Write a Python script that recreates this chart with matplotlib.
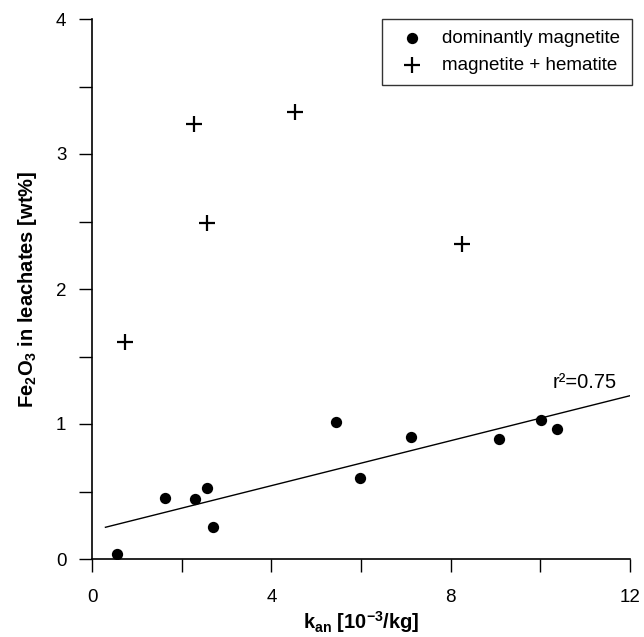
import matplotlib
matplotlib.use("Agg")
import matplotlib.pyplot as plt
import numpy as np

plt.rcParams['font.family'] = ['Liberation Sans', 'DejaVu Sans']
plt.rcParams['mathtext.fontset'] = 'custom'
plt.rcParams['mathtext.rm'] = 'Liberation Sans'
plt.rcParams['mathtext.bf'] = 'Liberation Sans:bold'
plt.rcParams['mathtext.it'] = 'Liberation Sans:italic'

# Data
magnetite_x = [0.56, 1.62, 2.29, 2.57, 2.71, 5.44, 5.98, 7.11, 9.07, 10.02, 10.37]
magnetite_y = [0.035, 0.454, 0.447, 0.526, 0.24, 1.017, 0.60, 0.904, 0.891, 1.027, 0.963]
hematite_x = [0.74, 2.28, 2.57, 4.52, 8.25]
hematite_y = [1.61, 3.22, 2.49, 3.31, 2.33]
fit_slope = 0.0833
fit_intercept = 0.21
fit_x_range = [0.3, 12.0]
r2_label = "r²=0.75"
x_ticks = [0, 4, 8, 12]
y_ticks = [0, 1, 2, 3, 4]

fig = plt.figure(figsize=(6.44, 6.37), dpi=100)
ax = fig.add_axes([92/644, 1 - 559/637, 538/644, 540/637])

ax.scatter(magnetite_x, magnetite_y, s=66, c='black', marker='o', linewidths=0,
           label='dominantly magnetite', zorder=3)
ax.scatter(hematite_x, hematite_y, s=140, c='black', marker='+', linewidths=1.6,
           label='magnetite + hematite', zorder=3)

fx = np.array(fit_x_range)
ax.plot(fx, fit_intercept + fit_slope * fx, color='black', lw=1.0, zorder=2)
ax.text(11.0, 1.31, r2_label, ha='center', va='center', fontsize=14.5)

ax.set_xlim(0, 12)
ax.set_ylim(0, 4)
ax.set_xticks(x_ticks)
ax.set_yticks(y_ticks)
ax.set_xticks(np.arange(0, 12.1, 2), minor=True)
ax.set_yticks(np.arange(0, 4.01, 0.5), minor=True)
ax.tick_params(which='both', direction='out', length=9.5, width=1.0, labelsize=13.5)
ax.tick_params(axis='x', which='major', pad=12)
ax.tick_params(axis='y', which='major', pad=9)

for s in ['top', 'right']:
    ax.spines[s].set_visible(False)
for s in ['left', 'bottom']:
    ax.spines[s].set_linewidth(1.2)

ax.set_xlabel(r'$\mathbf{k_{an}}$ [10$^{\mathbf{-3}}$/kg]', fontsize=14.5, fontweight='bold', labelpad=2)
ax.set_ylabel(r'$\mathbf{Fe_2O_3}$ in leachates [wt%]', fontsize=14.5, fontweight='bold', labelpad=12)

leg = ax.legend(loc='upper right', bbox_to_anchor=(1.003, 1.0), borderaxespad=0,
                fontsize=13.5, frameon=True, fancybox=False, edgecolor='black',
                handletextpad=0.6, borderpad=0.6, labelspacing=0.5, scatterpoints=1)
leg.get_frame().set_linewidth(1.0)

fig.savefig('out.png', dpi=100)
